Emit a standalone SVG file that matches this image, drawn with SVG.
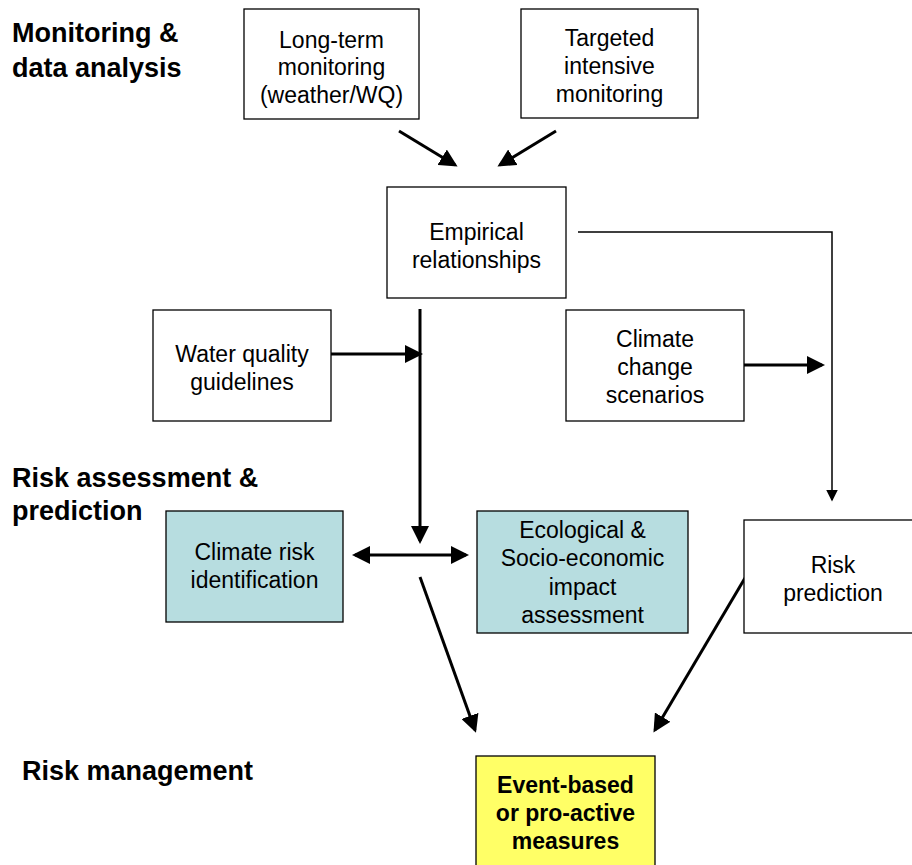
<svg xmlns="http://www.w3.org/2000/svg" width="912" height="865" viewBox="0 0 912 865">
<style>
.box{fill:#fff;stroke:#000;stroke-width:1.3}
.blue{fill:#b7dde0}
.yellow{fill:#ffff66}
.t{font-family:"Liberation Sans",Arial,sans-serif;font-size:23px;text-anchor:middle;fill:#000}
.tb{font-weight:bold}
.h{font-family:"Liberation Sans",Arial,sans-serif;font-size:27px;font-weight:bold;fill:#000}
.c{stroke:#000;stroke-width:3;fill:none}
.c1{stroke:#000;stroke-width:1.5;fill:none}
</style>
<defs>
<marker id="ah" markerWidth="6" markerHeight="6" refX="5" refY="3" orient="auto" markerUnits="strokeWidth">
<path d="M0,0 L6,3 L0,6 z" fill="#000"/>
</marker>
<marker id="ahs" markerWidth="6" markerHeight="6" refX="1" refY="3" orient="auto" markerUnits="strokeWidth">
<path d="M6,0 L0,3 L6,6 z" fill="#000"/>
</marker>
<marker id="ah2" markerWidth="8" markerHeight="8" refX="7" refY="4" orient="auto" markerUnits="strokeWidth">
<path d="M0,0 L8,4 L0,8 z" fill="#000"/>
</marker>
</defs>
<g id="labels">
<text class="h" x="12" y="42">Monitoring &amp;</text>
<text class="h" x="12" y="77">data analysis</text>
<text class="h" x="12" y="487">Risk assessment &amp;</text>
<text class="h" x="12" y="520">prediction</text>
<text class="h" x="22" y="780">Risk management</text>
</g>
<g id="connectors">
<line class="c" x1="399" y1="131" x2="455" y2="165" marker-end="url(#ah)"/>
<line class="c" x1="556" y1="131" x2="500" y2="165" marker-end="url(#ah)"/>
<polyline class="c1" points="578,232 832,232 832,500" marker-end="url(#ah2)"/>
<line class="c" x1="420" y1="309" x2="420" y2="541" marker-end="url(#ah)"/>
<line class="c" x1="331" y1="354" x2="420" y2="354" marker-end="url(#ah)"/>
<line class="c" x1="744" y1="365" x2="822" y2="365" marker-end="url(#ah)"/>
<line class="c" x1="355" y1="555" x2="466" y2="555" marker-start="url(#ahs)" marker-end="url(#ah)"/>
<line class="c" x1="420" y1="577" x2="475" y2="730" marker-end="url(#ah)"/>
<line class="c" x1="745" y1="578" x2="655" y2="730" marker-end="url(#ah)"/>
</g>
<g id="n-longterm">
<rect class="box" x="244" y="9" width="175" height="110"/>
<text class="t" x="331.5" y="48">Long-term</text>
<text class="t" x="331.5" y="75">monitoring</text>
<text class="t" x="331.5" y="103">(weather/WQ)</text>
</g>
<g id="n-targeted">
<rect class="box" x="521" y="9" width="177" height="109"/>
<text class="t" x="609.5" y="46">Targeted</text>
<text class="t" x="609.5" y="74">intensive</text>
<text class="t" x="609.5" y="102">monitoring</text>
</g>
<g id="n-empirical">
<rect class="box" x="387" y="187" width="179" height="111"/>
<text class="t" x="476.5" y="240">Empirical</text>
<text class="t" x="476.5" y="268">relationships</text>
</g>
<g id="n-wqg">
<rect class="box" x="153" y="310" width="178" height="111"/>
<text class="t" x="242" y="362">Water quality</text>
<text class="t" x="242" y="390">guidelines</text>
</g>
<g id="n-ccs">
<rect class="box" x="566" y="310" width="178" height="111"/>
<text class="t" x="655" y="347">Climate</text>
<text class="t" x="655" y="375">change</text>
<text class="t" x="655" y="403">scenarios</text>
</g>
<g id="n-cri">
<rect class="box blue" x="166" y="511" width="177" height="111"/>
<text class="t" x="254.5" y="560">Climate risk</text>
<text class="t" x="254.5" y="588">identification</text>
</g>
<g id="n-eco">
<rect class="box blue" x="477" y="511" width="211" height="122"/>
<text class="t" x="582.5" y="538">Ecological &amp;</text>
<text class="t" x="582.5" y="566">Socio-economic</text>
<text class="t" x="582.5" y="595">impact</text>
<text class="t" x="582.5" y="623">assessment</text>
</g>
<g id="n-riskpred">
<rect class="box" x="744" y="520" width="170" height="113"/>
<text class="t" x="833" y="573">Risk</text>
<text class="t" x="833" y="601">prediction</text>
</g>
<g id="n-event">
<rect class="box yellow" x="476" y="756" width="179" height="112"/>
<text class="t tb" x="565.5" y="793">Event-based</text>
<text class="t tb" x="565.5" y="821">or pro-active</text>
<text class="t tb" x="565.5" y="849">measures</text>
</g>
</svg>
